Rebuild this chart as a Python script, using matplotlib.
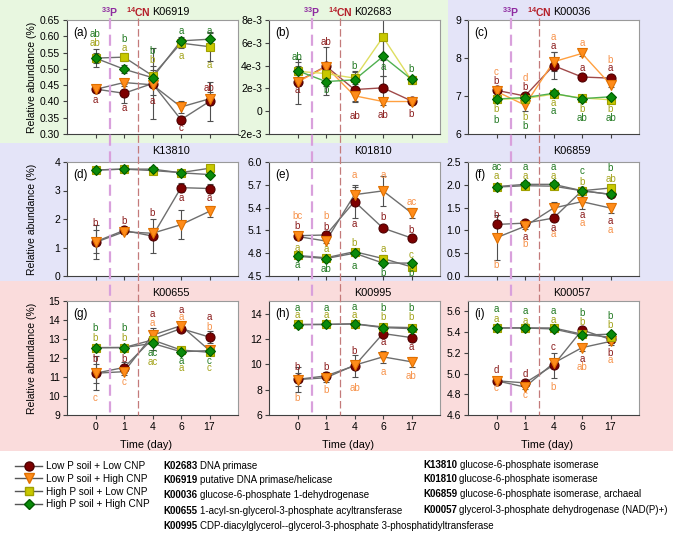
import matplotlib
matplotlib.use('Agg')
import matplotlib.pyplot as plt
from matplotlib.lines import Line2D
from matplotlib.patches import Rectangle
from matplotlib.transforms import blended_transform_factory
from matplotlib.ticker import FuncFormatter

plt.rcParams['font.family'] = ['Liberation Sans', 'DejaVu Sans']
plt.rcParams['mathtext.fontset'] = 'custom'
plt.rcParams['mathtext.rm'] = 'Liberation Sans'
plt.rcParams['mathtext.bf'] = 'Liberation Sans:bold'

days = ['0', '1', '4', '6', '17']
groups = ['Low P soil + Low CNP', 'Low P soil + High CNP',
          'High P soil + Low CNP', 'High P soil + High CNP']

# means / errors, rows: LowP-LowCNP, LowP-HighCNP, HighP-LowCNP, HighP-HighCNP
a_mean = [[0.438, 0.425, 0.455, 0.344, 0.400],
          [0.437, 0.458, 0.451, 0.383, 0.408],
          [0.533, 0.536, 0.479, 0.579, 0.568],
          [0.533, 0.499, 0.473, 0.586, 0.591]]
a_err = [[0.010, 0.030, 0.110, 0.012, 0.060],
         [0.008, 0.010, 0.030, 0.018, 0.020],
         [0.015, 0.012, 0.030, 0.015, 0.045],
         [0.028, 0.012, 0.025, 0.012, 0.018]]
b_mean = [[2.6e-3, 3.95e-3, 1.9e-3, 2.05e-3, 0.9e-3],
          [2.55e-3, 3.9e-3, 1.35e-3, 0.85e-3, 0.85e-3],
          [3.5e-3, 3.3e-3, 2.9e-3, 6.5e-3, 2.7e-3],
          [3.55e-3, 2.6e-3, 2.75e-3, 4.8e-3, 2.8e-3]]
b_err = [[2.0e-3, 1.7e-3, 1.0e-3, 1.0e-3, 0.3e-3],
         [0.3e-3, 0.3e-3, 0.5e-3, 0.3e-3, 0.25e-3],
         [0.5e-3, 0.5e-3, 0.5e-3, 2.0e-3, 0.3e-3],
         [0.75e-3, 1.2e-3, 0.8e-3, 1.7e-3, 0.3e-3]]
c_mean = [[7.15, 7.00, 7.80, 7.50, 7.47],
          [7.12, 6.76, 7.90, 8.12, 7.30],
          [6.92, 6.93, 7.05, 6.95, 6.90],
          [6.92, 6.96, 7.07, 6.93, 6.98]]
c_err = [[0.05, 0.05, 0.35, 0.05, 0.05],
         [0.05, 0.15, 0.25, 0.08, 0.06],
         [0.03, 0.05, 0.05, 0.04, 0.04],
         [0.04, 0.05, 0.04, 0.03, 0.04]]
d_mean = [[1.20, 1.60, 1.40, 3.10, 3.07],
          [1.18, 1.55, 1.50, 1.80, 2.27],
          [3.72, 3.75, 3.70, 3.63, 3.78],
          [3.72, 3.75, 3.75, 3.62, 3.56]]
d_err = [[0.40, 0.08, 0.60, 0.15, 0.15],
         [0.60, 0.08, 0.20, 0.50, 0.20],
         [0.03, 0.03, 0.03, 0.03, 0.03],
         [0.03, 0.03, 0.03, 0.03, 0.03]]
e_mean = [[5.03, 5.04, 5.48, 5.13, 5.00],
          [5.02, 4.96, 5.57, 5.62, 5.33],
          [4.77, 4.74, 4.82, 4.73, 4.62],
          [4.76, 4.73, 4.80, 4.67, 4.67]]
e_err = [[0.02, 0.02, 0.22, 0.02, 0.04],
         [0.03, 0.03, 0.10, 0.20, 0.07],
         [0.02, 0.02, 0.03, 0.04, 0.03],
         [0.02, 0.03, 0.03, 0.03, 0.03]]
f_mean = [[1.13, 1.16, 1.27, 1.87, 1.79],
          [0.84, 1.09, 1.49, 1.63, 1.49],
          [1.95, 1.98, 1.97, 1.87, 1.93],
          [1.96, 2.01, 2.01, 1.87, 1.79]]
f_err = [[0.05, 0.04, 0.06, 0.05, 0.05],
         [0.50, 0.05, 0.13, 0.15, 0.10],
         [0.03, 0.03, 0.03, 0.03, 0.05],
         [0.03, 0.03, 0.04, 0.05, 0.05]]
g_mean = [[11.20, 11.50, 13.00, 13.55, 13.10],
          [11.20, 11.28, 13.20, 13.70, 12.40],
          [12.55, 12.55, 12.95, 12.42, 12.30],
          [12.54, 12.55, 12.77, 12.33, 12.39]]
g_err = [[0.50, 0.30, 0.60, 0.15, 0.30],
         [0.90, 0.15, 0.15, 0.15, 0.15],
         [0.05, 0.05, 0.10, 0.10, 0.10],
         [0.05, 0.05, 0.10, 0.10, 0.10]]
h_mean = [[8.81, 9.09, 9.88, 12.43, 12.11],
          [8.80, 8.94, 9.93, 10.59, 10.20],
          [13.15, 13.15, 13.20, 12.95, 12.90],
          [13.13, 13.15, 13.19, 12.90, 12.82]]
h_err = [[0.50, 0.30, 0.85, 0.25, 0.20],
         [1.00, 0.30, 0.30, 0.50, 0.40],
         [0.10, 0.10, 0.10, 0.10, 0.10],
         [0.10, 0.10, 0.10, 0.10, 0.10]]
i_mean = [[4.93, 4.91, 5.08, 5.42, 5.33],
          [4.93, 4.87, 5.10, 5.25, 5.31],
          [5.44, 5.44, 5.44, 5.38, 5.35],
          [5.44, 5.44, 5.43, 5.37, 5.38]]
i_err = [[0.02, 0.02, 0.12, 0.02, 0.04],
         [0.02, 0.02, 0.03, 0.03, 0.03],
         [0.01, 0.01, 0.01, 0.01, 0.01],
         [0.02, 0.02, 0.02, 0.02, 0.02]]

# significance letters: (series, day index, letter), placed at the y that follows
a_sig = [(3, 0, 'ab'), (3, 1, 'b'), (3, 2, 'b'), (3, 3, 'a'), (3, 4, 'a'),
         (2, 0, 'ab'), (2, 1, 'a'), (2, 2, 'b'), (2, 3, 'a'), (2, 4, 'a'),
         (0, 0, 'a'), (0, 1, 'a'), (0, 2, 'a'), (0, 3, 'c'), (0, 4, 'ab')]
a_sig_y = [0.606, 0.592, 0.554, 0.616, 0.616,
           0.579, 0.563, 0.526, 0.538, 0.512,
           0.405, 0.380, 0.400, 0.318, 0.441]
b_sig = [(3, 0, 'ab'), (3, 1, 'b'), (3, 2, 'b'), (3, 3, 'a'), (3, 4, 'b'),
         (0, 0, 'a'), (0, 1, 'ab'), (0, 2, 'ab'), (0, 3, 'ab'), (0, 4, 'b')]
b_sig_y = [4.76e-3, 1.82e-3, 4.0e-3, 3.88e-3, 3.68e-3,
           1.82e-3, 6.09e-3, -0.38e-3, -0.29e-3, -0.24e-3]
c_sig = [(1, 0, 'c'), (1, 1, 'd'), (1, 2, 'a'), (1, 3, 'a'), (1, 4, 'b'),
         (0, 0, 'b'), (0, 1, 'b'), (0, 2, 'a'), (0, 3, 'a'), (0, 4, 'a'),
         (2, 0, 'b'), (2, 1, 'b'), (2, 2, 'a'), (2, 3, 'b'), (2, 4, 'b'),
         (3, 0, 'b'), (3, 1, 'b'), (3, 2, 'a'), (3, 3, 'ab'), (3, 4, 'ab')]
c_sig_y = [7.62, 7.48, 8.55, 8.40, 7.94,
           7.40, 7.25, 8.32, 7.73, 7.73,
           6.66, 6.44, 6.82, 6.66, 6.66,
           6.38, 6.22, 6.60, 6.41, 6.41]
d_sig = [(0, 0, 'b'), (0, 1, 'b'), (0, 2, 'b'), (0, 3, 'a'), (0, 4, 'a')]
d_sig_y = [1.87, 1.92, 2.22, 2.72, 2.72]
e_sig = [(1, 0, 'bc'), (1, 1, 'b'), (1, 2, 'a'), (1, 3, 'a'), (1, 4, 'ac'),
         (0, 0, 'b'), (0, 1, 'b'), (0, 2, 'a'), (0, 3, 'b'), (0, 4, 'b'),
         (2, 0, 'a'), (2, 1, 'a'), (2, 2, 'b'), (2, 3, 'a'), (2, 4, 'c'),
         (3, 0, 'a'), (3, 1, 'ab'), (3, 2, 'a'), (3, 3, 'b'), (3, 4, 'b')]
e_sig_y = [5.29, 5.29, 5.83, 5.83, 5.48,
           5.16, 5.15, 5.19, 5.27, 5.10,
           4.87, 4.86, 4.94, 4.86, 4.78,
           4.64, 4.59, 4.63, 4.54, 4.54]
f_sig = [(3, 0, 'ac'), (3, 1, 'a'), (3, 2, 'a'), (3, 3, 'c'), (3, 4, 'b'),
         (2, 0, 'a'), (2, 1, 'a'), (2, 2, 'a'), (2, 3, 'b'), (2, 4, 'ab'),
         (0, 0, 'b'), (0, 1, 'a'), (0, 2, 'a'), (0, 3, 'a'), (0, 4, 'a'),
         (1, 0, 'b'), (1, 1, 'b'), (1, 2, 'a'), (1, 3, 'a'), (1, 4, 'a')]
f_sig_y = [2.38, 2.38, 2.38, 2.30, 2.36,
           2.20, 2.20, 2.20, 2.06, 2.13,
           1.33, 0.86, 1.05, 1.33, 1.20,
           0.24, 0.70, 0.92, 1.16, 1.00]
g_sig = [(3, 0, 'b'), (3, 1, 'b'), (3, 2, 'ac'), (3, 3, 'a'), (3, 4, 'c'),
         (2, 0, 'b'), (2, 1, 'b'), (2, 2, 'ac'), (2, 3, 'a'), (2, 4, 'c'),
         (0, 0, 'b'), (0, 1, 'b'), (0, 2, 'a'), (0, 3, 'a'), (0, 4, 'a'),
         (1, 0, 'c'), (1, 1, 'c'), (1, 2, 'a'), (1, 3, 'a'), (1, 4, 'b')]
g_sig_y = [13.58, 13.58, 12.25, 11.86, 11.86,
           13.07, 13.07, 11.77, 11.45, 11.45,
           11.93, 11.95, 14.30, 14.55, 14.14,
           9.91, 10.72, 13.86, 14.18, 13.65]
h_sig = [(3, 0, 'a'), (3, 1, 'a'), (3, 2, 'a'), (3, 3, 'b'), (3, 4, 'b'),
         (2, 0, 'a'), (2, 1, 'a'), (2, 2, 'a'), (2, 3, 'b'), (2, 4, 'b'),
         (0, 0, 'b'), (0, 1, 'b'), (0, 2, 'b'), (0, 3, 'a'), (0, 4, 'a'),
         (1, 0, 'b'), (1, 1, 'b'), (1, 2, 'ab'), (1, 3, 'a'), (1, 4, 'ab')]
h_sig_y = [14.45, 14.45, 14.55, 14.45, 14.45,
           13.87, 13.87, 13.90, 13.74, 13.70,
           9.81, 9.81, 11.04, 11.77, 11.38,
           7.36, 7.97, 8.10, 9.41, 9.10]
i_sig = [(3, 0, 'a'), (3, 1, 'a'), (3, 2, 'a'), (3, 3, 'b'), (3, 4, 'b'),
         (2, 0, 'a'), (2, 1, 'a'), (2, 2, 'a'), (2, 3, 'b'), (2, 4, 'b'),
         (0, 0, 'd'), (0, 1, 'd'), (0, 2, 'c'), (0, 3, 'a'), (0, 4, 'b'),
         (1, 0, 'c'), (1, 1, 'c'), (1, 2, 'b'), (1, 3, 'ab'), (1, 4, 'a')]
i_sig_y = [5.625, 5.60, 5.60, 5.585, 5.555,
           5.53, 5.51, 5.52, 5.50, 5.47,
           5.03, 5.00, 5.26, 5.14, 5.20,
           4.86, 4.79, 4.87, 5.06, 5.13]

genes_left = [('K02683', 'DNA primase'),
              ('K06919', 'putative DNA primase/helicase'),
              ('K00036', 'glucose-6-phosphate 1-dehydrogenase'),
              ('K00655', '1-acyl-sn-glycerol-3-phosphate acyltransferase'),
              ('K00995', 'CDP-diacylglycerol--glycerol-3-phosphate 3-phosphatidyltransferase')]
genes_right = [('K13810', 'glucose-6-phosphate isomerase'),
               ('K01810', 'glucose-6-phosphate isomerase'),
               ('K06859', 'glucose-6-phosphate isomerase, archaeal'),
               ('K00057', 'glycerol-3-phosphate dehydrogenase (NAD(P)+)')]

# styles
markers = ['o', 'v', 's', 'D']
msizes = [6.5, 7, 6, 5.5]
face = ['#7d0000', '#ff8c1a', '#c8c800', '#0a8a0a']
edge = ['#4d0000', '#e07000', '#a0a000', '#005a00']
line_col = ['#a04a4a', '#ffa040', '#dede60', '#50b050']
let_col = ['#8b1c1c', '#f7924a', '#a3a31a', '#237a23']

W, H = 685, 535
fig = plt.figure(figsize=(W / 100, H / 100), dpi=100)

# background bands
bands = [(0, 0, 448, 143, '#e8f7e0'), (448, 0, 673, 143, '#e4e4f8'),
         (0, 143, 673, 281, '#e4e4f8'), (0, 281, 673, 451, '#fadcdc')]
for x0, y0, x1, y1, col in bands:
    fig.add_artist(Rectangle((x0 / W, 1 - y1 / H), (x1 - x0) / W, (y1 - y0) / H,
                             transform=fig.transFigure, color=col, zorder=-5, lw=0))

col_left = [67, 269, 468]
row_top = [20, 162, 301]
aw, ah = 171, 114


def fmt_b(v, pos):
    if abs(v) < 1e-9:
        return '0'
    return '%de-3' % round(v * 1e3)


panels = [
    (a_mean, a_err, a_sig, a_sig_y, 'K06919', '(a)', (0.30, 0.65),
     [0.30, 0.35, 0.40, 0.45, 0.50, 0.55, 0.60, 0.65], '%.2f', False),
    (b_mean, b_err, b_sig, b_sig_y, 'K02683', '(b)', (-2e-3, 8e-3),
     [-2e-3, 0, 2e-3, 4e-3, 6e-3, 8e-3], fmt_b, True),
    (c_mean, c_err, c_sig, c_sig_y, 'K00036', '(c)', (6, 9), [6, 7, 8, 9], '%d', True),
    (d_mean, d_err, d_sig, d_sig_y, 'K13810', '(d)', (0, 4), [0, 1, 2, 3, 4], '%d', False),
    (e_mean, e_err, e_sig, e_sig_y, 'K01810', '(e)', (4.5, 6.0),
     [4.5, 4.8, 5.1, 5.4, 5.7, 6.0], '%.1f', False),
    (f_mean, f_err, f_sig, f_sig_y, 'K06859', '(f)', (0, 2.5),
     [0, 0.5, 1.0, 1.5, 2.0, 2.5], '%.1f', False),
    (g_mean, g_err, g_sig, g_sig_y, 'K00655', '(g)', (9, 15),
     [9, 10, 11, 12, 13, 14, 15], '%d', False),
    (h_mean, h_err, h_sig, h_sig_y, 'K00995', '(h)', (6, 15), [6, 8, 10, 12, 14], '%d', False),
    (i_mean, i_err, i_sig, i_sig_y, 'K00057', '(i)', (4.6, 5.7),
     [4.6, 4.8, 5.0, 5.2, 5.4, 5.6], '%.1f', False),
]

x = list(range(len(days)))
for k, (mean, err, sig, sig_y, gene, tag, ylim, yt, fmt, colored) in enumerate(panels):
    r, c = divmod(k, 3)
    ax = fig.add_axes([col_left[c] / W, 1 - (row_top[r] + ah) / H, aw / W, ah / H])
    for s in range(4):
        ax.errorbar(x, mean[s], yerr=err[s], fmt='none', ecolor='#505050',
                    elinewidth=0.8, capsize=2, capthick=0.8, zorder=2)
    for s in range(4):
        ax.plot(x, mean[s], color=line_col[s] if colored else '#6e6e6e',
                lw=1.0, zorder=3)
    for s in range(4):
        ax.plot(x, mean[s], ls='none', marker=markers[s], ms=msizes[s],
                mfc=face[s], mec=edge[s], mew=0.8, zorder=4 + s)
    for (s, d, txt), yy in zip(sig, sig_y):
        ax.text(d, yy, txt, color=let_col[s], fontsize=7, ha='center',
                va='center', zorder=10)
    ax.set_xlim(-1, 5)
    ax.set_ylim(*ylim)
    ax.set_yticks(yt)
    if isinstance(fmt, str):
        ax.yaxis.set_major_formatter(FuncFormatter(lambda v, p, f=fmt: f % v))
    else:
        ax.yaxis.set_major_formatter(FuncFormatter(fmt))
    ax.set_xticks(x)
    if r == 2:
        ax.set_xticklabels(days)
        ax.set_xlabel('Time (day)', fontsize=7.8)
        ax.xaxis.set_label_coords(0.46, -0.22)
    else:
        ax.set_xticklabels([])
    if c == 0:
        ax.set_ylabel('Relative abundance (%)', fontsize=7.5)
        ax.yaxis.set_label_coords(-0.175, 0.5)
    ax.tick_params(direction='out', length=3, width=0.8, labelsize=7.5,
                   color='#404040', pad=2)
    for side in ['left', 'bottom']:
        ax.spines[side].set_color('#404040')
        ax.spines[side].set_linewidth(0.8)
    for side in ['top', 'right']:
        ax.spines[side].set_color('#9a9a9a')
        ax.spines[side].set_linewidth(0.8)
    ax.text(0.035, 0.885, tag, transform=ax.transAxes, fontsize=8.5, va='center')
    ty = 1.1 if r == 1 else 1.07
    ax.text(0.61, ty, gene, transform=ax.transAxes, fontsize=7.8, ha='center', va='center')

    # treatment markers (33P labelling, 14C/N addition) for each column
    if r == 0:
        bt = blended_transform_factory(ax.transData, fig.transFigure)
        fig.add_artist(Line2D([0.5, 0.5], [1 - 18 / H, 1 - 415 / H], transform=bt,
                              color='#d9a0dc', lw=1.6, ls=(0, (5, 2.5)), zorder=3))
        fig.add_artist(Line2D([1.5, 1.5], [1 - 18 / H, 1 - 415 / H], transform=bt,
                              color='#c47a7a', lw=0.9, ls=(0, (6, 2.5)), zorder=3))
        lt = blended_transform_factory(ax.transData, ax.transAxes)
        ax.text(0.5, ty, r'$^{\mathbf{33}}$P', transform=lt, color='#8e2aa0',
                fontsize=7.5, fontweight='bold', ha='center', va='center')
        ax.text(1.5, ty, r'$^{\mathbf{14}}$CN', transform=lt, color='#b51f2a',
                fontsize=7.5, fontweight='bold', ha='center', va='center')

# legend
handles = [Line2D([], [], color='#555555', lw=1, marker=markers[s], ms=msizes[s],
                  mfc=face[s], mec=edge[s]) for s in range(4)]
fig.legend(handles, groups, loc='upper left', bbox_to_anchor=(15 / W, 1 - 461 / H),
           frameon=False, fontsize=7.2, handlelength=2.7, handletextpad=0.35,
           labelspacing=0.28, borderpad=0, borderaxespad=0)

# gene descriptions
fig.canvas.draw()
rend = fig.canvas.get_renderer()
for items, x0, ys in [(genes_left, 163, [466, 480, 495, 511, 526]),
                      (genes_right, 423, [465, 479, 494, 510])]:
    for (kid, desc), yy in zip(items, ys):
        t = fig.text(x0 / W, 1 - yy / H, kid, fontsize=7, fontweight='bold', va='center')
        wpx = t.get_window_extent(renderer=rend).width
        fig.text((x0 + wpx + 2.5) / W, 1 - yy / H, desc, fontsize=7, va='center')

fig.savefig('out.png', dpi=100)
